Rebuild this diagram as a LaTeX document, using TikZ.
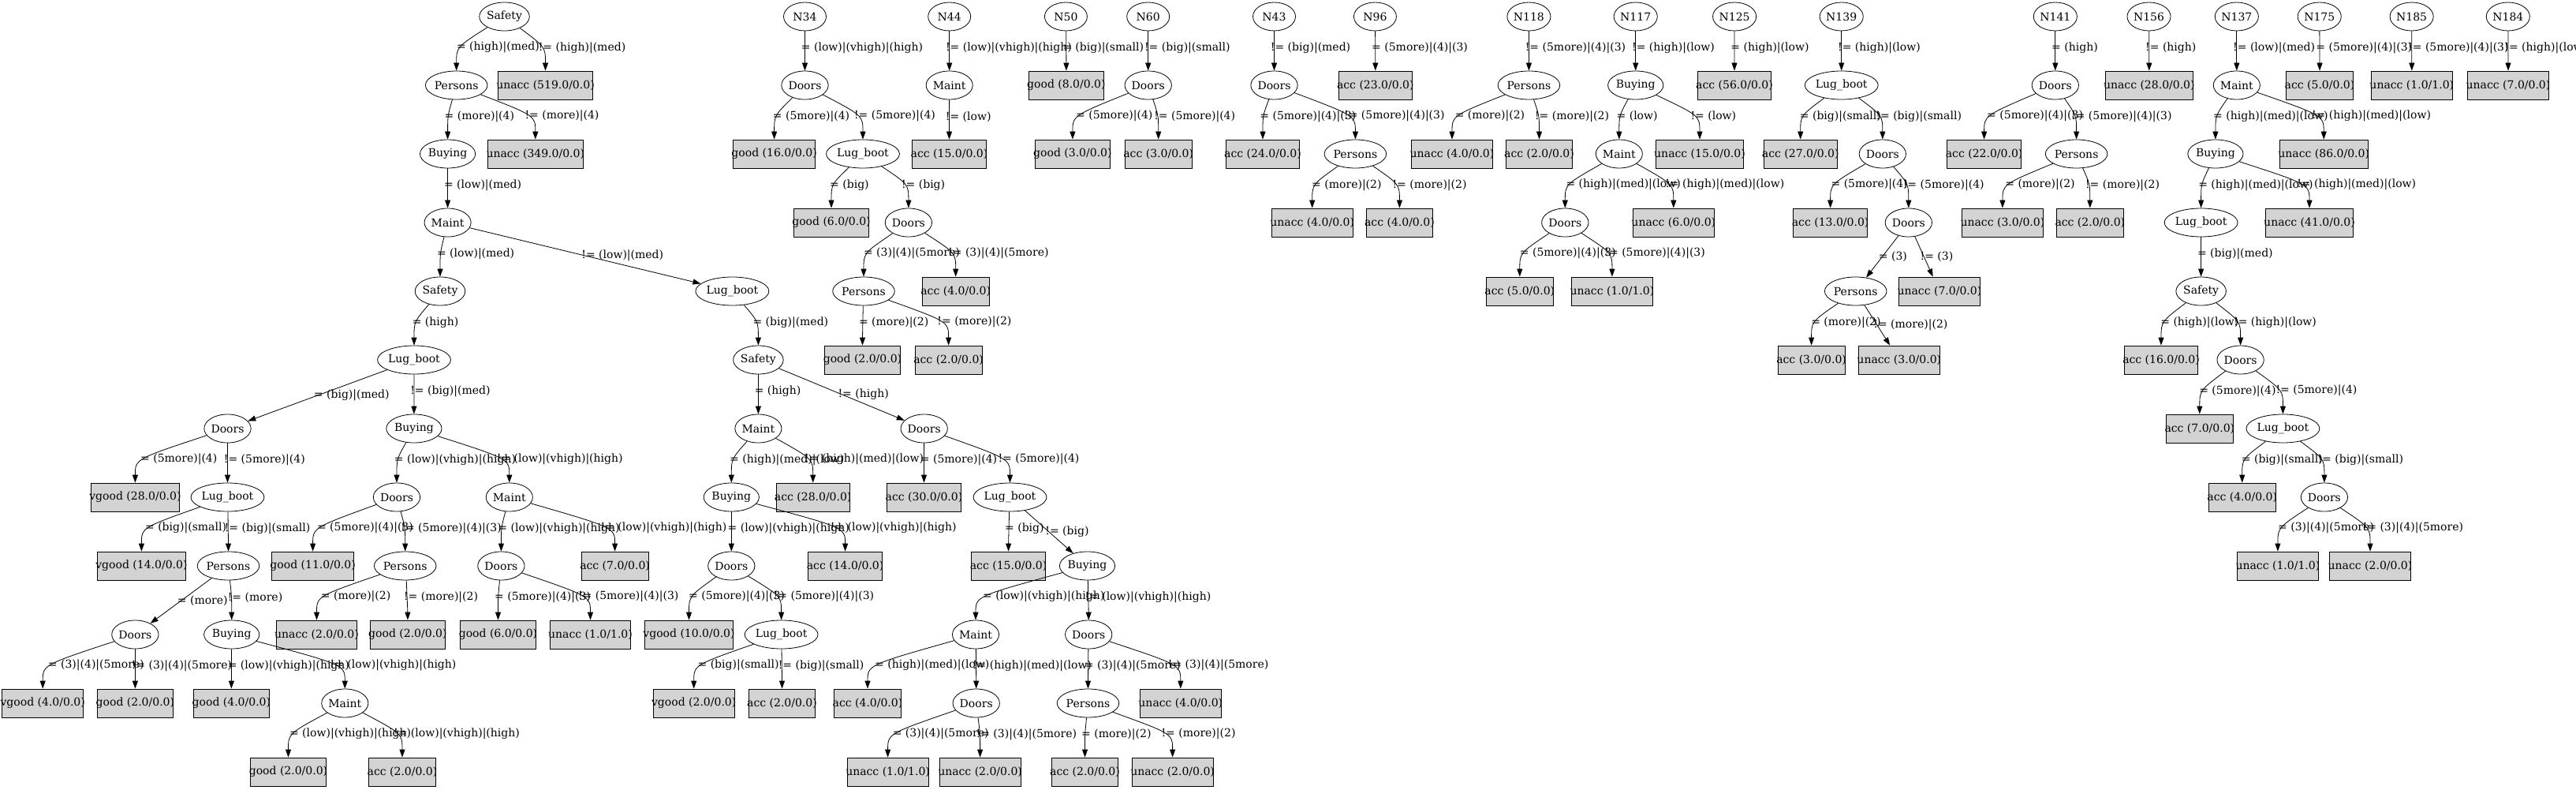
\documentclass[tikz,border=0pt]{standalone}
\usepackage{fontspec}
\setmainfont{DejaVu Serif}
\usetikzlibrary{
  arrows.meta,
  calc,
  shapes.geometric,
}
\definecolor{leafgray}{RGB}{211, 211, 211}
\tikzstyle{attr} = [
  ellipse,
  draw,
  line width=0.8pt,
  inner xsep=0pt,
  inner ysep=2pt,
  minimum width=54pt,
  minimum height=36pt,
]
\tikzstyle{leaf} = [
  rectangle,
  draw,
  fill=leafgray,
  line width=0.8pt,
  inner xsep=-2pt,
  minimum width=54pt,
  minimum height=36pt,
]
\tikzstyle{arrow} = [
  -{Triangle[length=10pt,width=7pt]},
  line width=0.8pt,
]
\tikzstyle{cond} = [
  pos=0.5,
  anchor=west,
  xshift=-5pt,
  inner sep=0pt,
]
% curved test edge, ends on top of the child
\newcommand{\branch}[3]{\draw[arrow] (#1) .. controls ($(#2.north)+(0,30pt)$) .. (#2.north) node[cond] {#3};}
\newcommand{\longbranch}[3]{\draw[arrow] (#1) -- (#2) node[cond] {#3};}

\begin{document}
\begin{tikzpicture}[x=1pt, y=-87pt, font=\fontsize{14pt}{16pt}\selectfont]
  \path[use as bounding box, fill=white] (0,-0.2414) rectangle (3266,11.2644);

  % main tree
  \node[attr] (a0) at (639.5,0) {Safety};
  \node[attr] (a1) at (578.7,1) {Persons};
  \node[leaf] (a2) at (691.5,1) {unacc (519.0/0.0)};
  \node[attr] (a3) at (567.6,2) {Buying};
  \node[leaf] (a4) at (678.8,2) {unacc (349.0/0.0)};
  \node[attr] (a5) at (567.6,3) {Maint};
  \node[attr] (a6) at (558,4) {Safety};
  \node[attr] (a7) at (928.4,4) {Lug\_boot};
  \node[attr] (a8) at (525,5) {Lug\_boot};
  \node[attr] (a9) at (288.5,6) {Doors};
  \node[attr] (a10) at (524.9,6) {Buying};
  \node[leaf] (a11) at (171.4,7) {vgood (28.0/0.0)};
  \node[attr] (a12) at (288.5,7) {Lug\_boot};
  \node[attr] (a13) at (503,7) {Doors};
  \node[attr] (a14) at (645.8,7) {Maint};
  \node[leaf] (a15) at (179.4,8) {vgood (14.0/0.0)};
  \node[attr] (a16) at (289.5,8) {Persons};
  \node[leaf] (a17) at (396.6,8) {good (11.0/0.0)};
  \node[attr] (a18) at (513.7,8) {Persons};
  \node[attr] (a19) at (635.4,8) {Doors};
  \node[leaf] (a20) at (779.6,8) {acc (7.0/0.0)};
  \node[attr] (a21) at (171.4,9) {Doors};
  \node[attr] (a22) at (293.7,9) {Buying};
  \node[leaf] (a23) at (401.5,9) {unacc (2.0/0.0)};
  \node[leaf] (a24) at (516.9,9) {good (2.0/0.0)};
  \node[leaf] (a25) at (631.5,9) {good (6.0/0.0)};
  \node[leaf] (a26) at (748.5,9) {unacc (1.0/1.0)};
  \node[leaf] (a27) at (54.2,10) {vgood (4.0/0.0)};
  \node[leaf] (a28) at (171.4,10) {good (2.0/0.0)};
  \node[leaf] (a29) at (293.4,10) {good (4.0/0.0)};
  \node[attr] (a30) at (437.3,10) {Maint};
  \node[leaf] (a31) at (365.5,11) {good (2.0/0.0)};
  \node[leaf] (a32) at (510,11) {acc (2.0/0.0)};
  \node[attr] (a33) at (961.4,5) {Safety};
  \node[attr] (a34) at (961.4,6) {Maint};
  \node[attr] (a35) at (1171.7,6) {Doors};
  \node[attr] (a36) at (927.3,7) {Buying};
  \node[leaf] (a37) at (1030.7,7) {acc (28.0/0.0)};
  \node[leaf] (a38) at (1171.5,7) {acc (30.0/0.0)};
  \node[attr] (a39) at (1280.5,7) {Lug\_boot};
  \node[attr] (a40) at (927.3,8) {Doors};
  \node[leaf] (a41) at (1071.6,8) {acc (14.0/0.0)};
  \node[leaf] (a42) at (1278.6,8) {acc (15.0/0.0)};
  \node[attr] (a43) at (1378.5,8) {Buying};
  \node[leaf] (a44) at (873.5,9) {vgood (10.0/0.0)};
  \node[attr] (a45) at (990.6,9) {Lug\_boot};
  \node[attr] (a46) at (1237,9) {Maint};
  \node[attr] (a47) at (1380.2,9) {Doors};
  \node[leaf] (a48) at (879.7,10) {vgood (2.0/0.0)};
  \node[leaf] (a49) at (991.5,10) {acc (2.0/0.0)};
  \node[leaf] (a50) at (1100,10) {acc (4.0/0.0)};
  \node[attr] (a51) at (1237.7,10) {Doors};
  \node[attr] (a52) at (1379.5,10) {Persons};
  \node[leaf] (a53) at (1496.8,10) {unacc (4.0/0.0)};
  \node[leaf] (a54) at (1125.6,11) {unacc (1.0/1.0)};
  \node[leaf] (a55) at (1242.6,11) {unacc (2.0/0.0)};
  \node[leaf] (a56) at (1375.5,11) {acc (2.0/0.0)};
  \node[leaf] (a57) at (1486.6,11) {unacc (2.0/0.0)};

  \branch{a0}{a1}{= (high)|(med)}
  \branch{a0}{a2}{!= (high)|(med)}
  \branch{a1}{a3}{= (more)|(4)}
  \branch{a1}{a4}{!= (more)|(4)}
  \branch{a3}{a5}{= (low)|(med)}
  \branch{a5}{a6}{= (low)|(med)}
  \longbranch{a5}{a7}{!= (low)|(med)}
  \branch{a6}{a8}{= (high)}
  \longbranch{a8}{a9}{= (big)|(med)}
  \branch{a8}{a10}{!= (big)|(med)}
  \branch{a9}{a11}{= (5more)|(4)}
  \branch{a9}{a12}{!= (5more)|(4)}
  \branch{a12}{a15}{= (big)|(small)}
  \branch{a12}{a16}{!= (big)|(small)}
  \longbranch{a16}{a21}{= (more)}
  \branch{a16}{a22}{!= (more)}
  \branch{a21}{a27}{= (3)|(4)|(5more)}
  \branch{a21}{a28}{!= (3)|(4)|(5more)}
  \branch{a22}{a29}{= (low)|(vhigh)|(high)}
  \branch{a22}{a30}{!= (low)|(vhigh)|(high)}
  \branch{a30}{a31}{= (low)|(vhigh)|(high)}
  \branch{a30}{a32}{!= (low)|(vhigh)|(high)}
  \branch{a10}{a13}{= (low)|(vhigh)|(high)}
  \branch{a10}{a14}{!= (low)|(vhigh)|(high)}
  \branch{a13}{a17}{= (5more)|(4)|(3)}
  \branch{a13}{a18}{!= (5more)|(4)|(3)}
  \branch{a18}{a23}{= (more)|(2)}
  \branch{a18}{a24}{!= (more)|(2)}
  \branch{a14}{a19}{= (low)|(vhigh)|(high)}
  \branch{a14}{a20}{!= (low)|(vhigh)|(high)}
  \branch{a19}{a25}{= (5more)|(4)|(3)}
  \branch{a19}{a26}{!= (5more)|(4)|(3)}
  \branch{a7}{a33}{= (big)|(med)}
  \branch{a33}{a34}{= (high)}
  \longbranch{a33}{a35}{!= (high)}
  \branch{a34}{a36}{= (high)|(med)|(low)}
  \branch{a34}{a37}{!= (high)|(med)|(low)}
  \branch{a36}{a40}{= (low)|(vhigh)|(high)}
  \branch{a36}{a41}{!= (low)|(vhigh)|(high)}
  \branch{a40}{a44}{= (5more)|(4)|(3)}
  \branch{a40}{a45}{!= (5more)|(4)|(3)}
  \branch{a45}{a48}{= (big)|(small)}
  \branch{a45}{a49}{!= (big)|(small)}
  \branch{a35}{a38}{= (5more)|(4)}
  \branch{a35}{a39}{!= (5more)|(4)}
  \branch{a39}{a42}{= (big)}
  \longbranch{a39}{a43}{!= (big)}
  \branch{a43}{a46}{= (low)|(vhigh)|(high)}
  \branch{a43}{a47}{!= (low)|(vhigh)|(high)}
  \branch{a46}{a50}{= (high)|(med)|(low)}
  \branch{a46}{a51}{!= (high)|(med)|(low)}
  \branch{a51}{a54}{= (3)|(4)|(5more)}
  \branch{a51}{a55}{!= (3)|(4)|(5more)}
  \branch{a47}{a52}{= (3)|(4)|(5more)}
  \branch{a47}{a53}{!= (3)|(4)|(5more)}
  \branch{a52}{a56}{= (more)|(2)}
  \branch{a52}{a57}{!= (more)|(2)}

  % N34
  \node[attr] (n34) at (1020.5,0) {N34};
  \node[attr] (n34a) at (1020.5,1) {Doors};
  \node[leaf] (n34b) at (981.6,2) {good (16.0/0.0)};
  \node[attr] (n34c) at (1094,2) {Lug\_boot};
  \node[leaf] (n34d) at (1054,3) {good (6.0/0.0)};
  \node[attr] (n34e) at (1151.9,3) {Doors};
  \node[attr] (n34f) at (1095,4) {Persons};
  \node[leaf] (n34g) at (1211.7,4) {acc (4.0/0.0)};
  \node[leaf] (n34h) at (1093.5,5) {good (2.0/0.0)};
  \node[leaf] (n34i) at (1202.6,5) {acc (2.0/0.0)};
  \branch{n34}{n34a}{= (low)|(vhigh)|(high)}
  \branch{n34a}{n34b}{= (5more)|(4)}
  \branch{n34a}{n34c}{!= (5more)|(4)}
  \branch{n34c}{n34d}{= (big)}
  \branch{n34c}{n34e}{!= (big)}
  \branch{n34e}{n34f}{= (3)|(4)|(5more)}
  \branch{n34e}{n34g}{!= (3)|(4)|(5more)}
  \branch{n34f}{n34h}{= (more)|(2)}
  \branch{n34f}{n34i}{!= (more)|(2)}

  % N44, N50, N60
  \node[attr] (n44) at (1203.7,0) {N44};
  \node[attr] (n44a) at (1203.7,1) {Maint};
  \node[leaf] (n44b) at (1203.5,2) {acc (15.0/0.0)};
  \branch{n44}{n44a}{!= (low)|(vhigh)|(high)}
  \branch{n44a}{n44b}{!= (low)}
  \node[attr] (n50) at (1351.4,0) {N50};
  \node[leaf] (n50a) at (1351.9,1) {good (8.0/0.0)};
  \branch{n50}{n50a}{= (big)|(small)}
  \node[attr] (n60) at (1455.7,0) {N60};
  \node[attr] (n60a) at (1455.7,1) {Doors};
  \node[leaf] (n60b) at (1359.9,2) {good (3.0/0.0)};
  \node[leaf] (n60c) at (1468.7,2) {acc (3.0/0.0)};
  \branch{n60}{n60a}{!= (big)|(small)}
  \branch{n60a}{n60b}{= (5more)|(4)}
  \branch{n60a}{n60c}{!= (5more)|(4)}

  % N43, N96
  \node[attr] (n43) at (1615.5,0) {N43};
  \node[attr] (n43a) at (1615.5,1) {Doors};
  \node[leaf] (n43b) at (1601,2) {acc (24.0/0.0)};
  \node[attr] (n43c) at (1718.4,2) {Persons};
  \node[leaf] (n43d) at (1663.7,3) {unacc (4.0/0.0)};
  \node[leaf] (n43e) at (1774.4,3) {acc (4.0/0.0)};
  \branch{n43}{n43a}{!= (big)|(med)}
  \branch{n43a}{n43b}{= (5more)|(4)|(3)}
  \branch{n43a}{n43c}{!= (5more)|(4)|(3)}
  \branch{n43c}{n43d}{= (more)|(2)}
  \branch{n43c}{n43e}{!= (more)|(2)}
  \node[attr] (n96) at (1743.4,0) {N96};
  \node[leaf] (n96a) at (1743.8,1) {acc (23.0/0.0)};
  \branch{n96}{n96a}{= (5more)|(4)|(3)}

  % N118, N117
  \node[attr] (n118) at (1938.4,0) {N118};
  \node[attr] (n118a) at (1938.4,1) {Persons};
  \node[leaf] (n118b) at (1841,2) {unacc (4.0/0.0)};
  \node[leaf] (n118c) at (1951.5,2) {acc (2.0/0.0)};
  \branch{n118}{n118a}{!= (5more)|(4)|(3)}
  \branch{n118a}{n118b}{= (more)|(2)}
  \branch{n118a}{n118c}{!= (more)|(2)}
  \node[attr] (n117) at (2073.7,0) {N117};
  \node[attr] (n117a) at (2073.7,1) {Buying};
  \node[attr] (n117b) at (2052.8,2) {Maint};
  \node[leaf] (n117c) at (2155,2) {unacc (15.0/0.0)};
  \node[attr] (n117d) at (1984.3,3) {Doors};
  \node[leaf] (n117e) at (2121.8,3) {unacc (6.0/0.0)};
  \node[leaf] (n117f) at (1926.8,4) {acc (5.0/0.0)};
  \node[leaf] (n117g) at (2043.9,4) {unacc (1.0/1.0)};
  \branch{n117}{n117a}{!= (high)|(low)}
  \branch{n117a}{n117b}{= (low)}
  \branch{n117a}{n117c}{!= (low)}
  \branch{n117b}{n117d}{= (high)|(med)|(low)}
  \branch{n117b}{n117e}{!= (high)|(med)|(low)}
  \branch{n117d}{n117f}{= (5more)|(4)|(3)}
  \branch{n117d}{n117g}{!= (5more)|(4)|(3)}

  % N125, N139
  \node[attr] (n125) at (2199.1,0) {N125};
  \node[leaf] (n125a) at (2199,1) {acc (56.0/0.0)};
  \branch{n125}{n125a}{= (high)|(low)}
  \node[attr] (n139) at (2334.7,0) {N139};
  \node[attr] (n139a) at (2334.7,1) {Lug\_boot};
  \node[leaf] (n139b) at (2282.7,2) {acc (27.0/0.0)};
  \node[attr] (n139c) at (2386.8,2) {Doors};
  \node[leaf] (n139d) at (2320.6,3) {acc (13.0/0.0)};
  \node[attr] (n139e) at (2419.8,3) {Doors};
  \node[attr] (n139f) at (2352.7,4) {Persons};
  \node[leaf] (n139g) at (2458.9,4) {unacc (7.0/0.0)};
  \node[leaf] (n139h) at (2296.6,5) {acc (3.0/0.0)};
  \node[leaf] (n139i) at (2407.8,5) {unacc (3.0/0.0)};
  \branch{n139}{n139a}{!= (high)|(low)}
  \branch{n139a}{n139b}{= (big)|(small)}
  \branch{n139a}{n139c}{!= (big)|(small)}
  \branch{n139c}{n139d}{= (5more)|(4)}
  \branch{n139c}{n139e}{!= (5more)|(4)}
  \longbranch{n139e}{n139f}{= (3)}
  \longbranch{n139e}{n139g}{!= (3)}
  \branch{n139f}{n139h}{= (more)|(2)}
  \longbranch{n139f}{n139i}{!= (more)|(2)}

  % N141, N156
  \node[attr] (n141) at (2605.8,0) {N141};
  \node[attr] (n141a) at (2605.8,1) {Doors};
  \node[leaf] (n141b) at (2515.6,2) {acc (22.0/0.0)};
  \node[attr] (n141c) at (2632.6,2) {Persons};
  \node[leaf] (n141d) at (2538.9,3) {unacc (3.0/0.0)};
  \node[leaf] (n141e) at (2649.8,3) {acc (2.0/0.0)};
  \branch{n141}{n141a}{= (high)}
  \branch{n141a}{n141b}{= (5more)|(4)|(3)}
  \branch{n141a}{n141c}{!= (5more)|(4)|(3)}
  \branch{n141c}{n141d}{= (more)|(2)}
  \branch{n141c}{n141e}{!= (more)|(2)}
  \node[attr] (n156) at (2724.5,0) {N156};
  \node[leaf] (n156a) at (2724.8,1) {unacc (28.0/0.0)};
  \branch{n156}{n156a}{!= (high)}

  % N137
  \node[attr] (n137) at (2835.8,0) {N137};
  \node[attr] (n137a) at (2835.8,1) {Maint};
  \node[attr] (n137b) at (2808.9,2) {Buying};
  \node[leaf] (n137c) at (2946.2,2) {unacc (86.0/0.0)};
  \node[attr] (n137d) at (2790.6,3) {Lug\_boot};
  \node[leaf] (n137e) at (2928,3) {unacc (41.0/0.0)};
  \node[attr] (n137f) at (2790.6,4) {Safety};
  \node[leaf] (n137g) at (2740,5) {acc (16.0/0.0)};
  \node[attr] (n137h) at (2840.6,5) {Doors};
  \node[leaf] (n137i) at (2788.8,6) {acc (7.0/0.0)};
  \node[attr] (n137j) at (2894.4,6) {Lug\_boot};
  \node[leaf] (n137k) at (2842.7,7) {acc (4.0/0.0)};
  \node[attr] (n137l) at (2946.9,7) {Doors};
  \node[leaf] (n137m) at (2887.9,8) {unacc (1.0/1.0)};
  \node[leaf] (n137n) at (3005,8) {unacc (2.0/0.0)};
  \branch{n137}{n137a}{!= (low)|(med)}
  \branch{n137a}{n137b}{= (high)|(med)|(low)}
  \branch{n137a}{n137c}{!= (high)|(med)|(low)}
  \branch{n137b}{n137d}{= (high)|(med)|(low)}
  \branch{n137b}{n137e}{!= (high)|(med)|(low)}
  \branch{n137d}{n137f}{= (big)|(med)}
  \branch{n137f}{n137g}{= (high)|(low)}
  \branch{n137f}{n137h}{!= (high)|(low)}
  \branch{n137h}{n137i}{= (5more)|(4)}
  \branch{n137h}{n137j}{!= (5more)|(4)}
  \branch{n137j}{n137k}{= (big)|(small)}
  \branch{n137j}{n137l}{!= (big)|(small)}
  \branch{n137l}{n137m}{= (3)|(4)|(5more)}
  \branch{n137l}{n137n}{!= (3)|(4)|(5more)}

  % N175, N185, N184
  \node[attr] (n175) at (2940.7,0) {N175};
  \node[leaf] (n175a) at (2941,1) {acc (5.0/0.0)};
  \branch{n175}{n175a}{= (5more)|(4)|(3)}
  \node[attr] (n185) at (3057.6,0) {N185};
  \node[leaf] (n185a) at (3057.8,1) {unacc (1.0/1.0)};
  \branch{n185}{n185a}{!= (5more)|(4)|(3)}
  \node[attr] (n184) at (3179.8,0) {N184};
  \node[leaf] (n184a) at (3180,1) {unacc (7.0/0.0)};
  \branch{n184}{n184a}{!= (high)|(low)}
\end{tikzpicture}
\end{document}
